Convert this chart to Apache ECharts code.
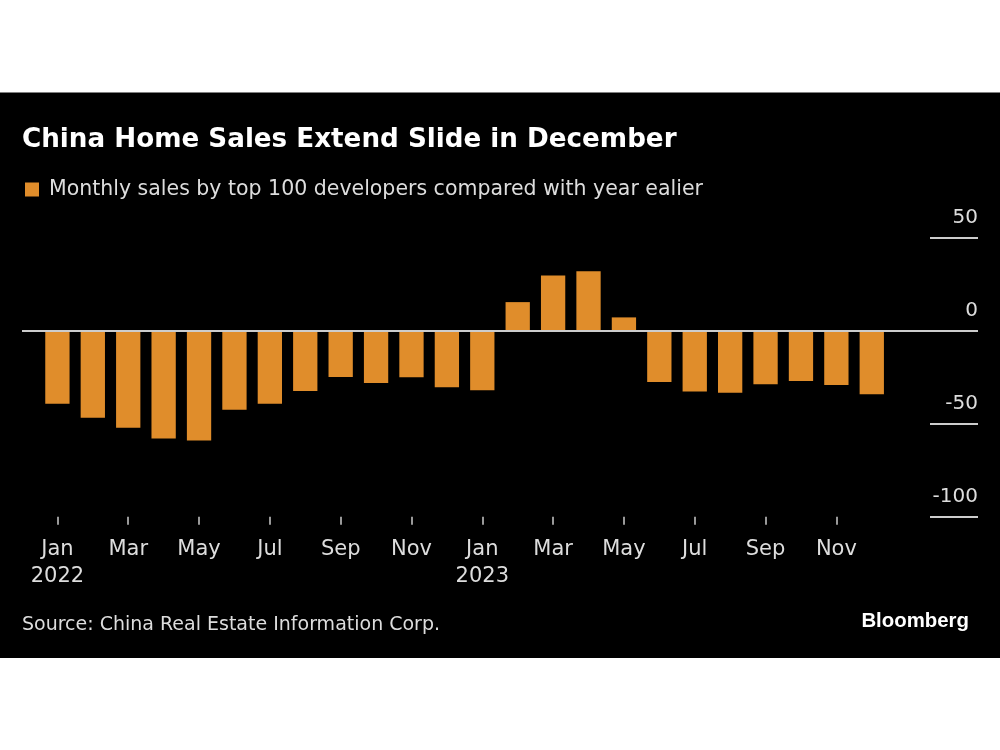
<!DOCTYPE html>
<html>
<head>
<meta charset="utf-8">
<script src="https://cdn.jsdelivr.net/npm/echarts@6/dist/echarts.min.js"></script>
<style>
  html, body { margin: 0; padding: 0; background: #ffffff; }
  #chart { width: 1000px; height: 750px; }
</style>
</head>
<body>
<div id="chart"></div>
<script>
// ---- data ----
const months = ['Jan','Feb','Mar','Apr','May','Jun','Jul','Aug','Sep','Oct','Nov','Dec',
                'Jan','Feb','Mar','Apr','May','Jun','Jul','Aug','Sep','Oct','Nov','Dec'];
const years = ['2022','','','','','','','','','','','',
               '2023','','','','','','','','','','',''];
const salesYoY = [-39.3, -46.9, -52.3, -58.0, -59.1, -42.6, -39.4, -32.5, -25.0, -28.2, -25.2, -30.5,
                  -32.1, 15.2, 29.5, 31.8, 7.0, -27.7, -32.8, -33.5, -28.9, -27.1, -29.3, -34.3];
const yTicks = [-100, -50, 0, 50];
const seriesName = 'Monthly sales by top 100 developers compared with year ealier';
const titleText = 'China Home Sales Extend Slide in December';
const sourceText = 'Source: China Real Estate Information Corp.';

// ---- chart ----
const FONT = '"DejaVu Sans", sans-serif';
const tickIdx = months.map((m, i) => i).filter(i => i % 2 === 0);
const chart = echarts.init(document.getElementById('chart'), null, { renderer: 'canvas' });

chart.setOption({
  backgroundColor: '#ffffff',
  animation: false,
  graphic: [{
    type: 'rect', z: -10, silent: true,
    shape: { x: 0, y: 92.5, width: 1000, height: 565.5 },
    style: { fill: '#000000' }
  }],
  title: [
    { text: titleText, left: 22, top: 127, padding: 0,
      textStyle: { color: '#ffffff', fontFamily: FONT, fontWeight: 'bold', fontSize: 26.2 } },
    { text: sourceText, left: 22, top: 616, padding: 0,
      textStyle: { color: '#dddddd', fontFamily: FONT, fontWeight: 'normal', fontSize: 19 } },
    { text: 'Bloomberg', right: 31, top: 611, padding: 0,
      textStyle: { color: '#ffffff', fontFamily: '"Liberation Sans", Arial, sans-serif', fontWeight: 'bold', fontSize: 20.4 } }
  ],
  legend: {
    left: 25, top: 179, padding: 0,
    itemWidth: 14, itemHeight: 14, icon: 'rect',
    textStyle: { color: '#dddddd', fontFamily: FONT, fontSize: 20.5, padding: [0, 0, 0, 5] },
    data: [seriesName]
  },
  grid: { left: 22, right: 22, top: 237.3, bottom: 233.3, containLabel: false },
  xAxis: {
    type: 'value', min: -1, max: 26,
    axisLine: { show: false, onZero: false },
    splitLine: { show: false },
    axisTick: { show: true, customValues: tickIdx, length: 8,
                lineStyle: { color: '#cccccc', width: 1.5 } },
    axisLabel: {
      customValues: tickIdx,
      color: '#dddddd', fontFamily: FONT, fontSize: 21, lineHeight: 27, margin: 19,
      formatter: v => years[v] ? months[v] + '\n' + years[v] : months[v]
    }
  },
  yAxis: {
    type: 'value', position: 'right', min: -100, max: 50, interval: 50,
    axisLine: { show: false, onZero: false },
    splitLine: { show: false },
    axisTick: { show: true, inside: true, length: 48,
                lineStyle: { color: '#cccccc', width: 2 } },
    axisLabel: {
      inside: true, margin: 0, color: '#dddddd', fontFamily: FONT, fontSize: 20,
      verticalAlign: 'bottom', padding: [0, 0, 10, 0],
      customValues: yTicks
    }
  },
  series: [{
    name: seriesName,
    type: 'bar',
    barWidth: 24.3,
    itemStyle: { color: '#E08D2B' },
    data: salesYoY.map((v, i) => [i, v]),
    markLine: {
      silent: true, symbol: 'none', label: { show: false },
      lineStyle: { color: '#cccccc', width: 2, type: 'solid' },
      data: [{ yAxis: 0 }]
    }
  }]
});
</script>
</body>
</html>
